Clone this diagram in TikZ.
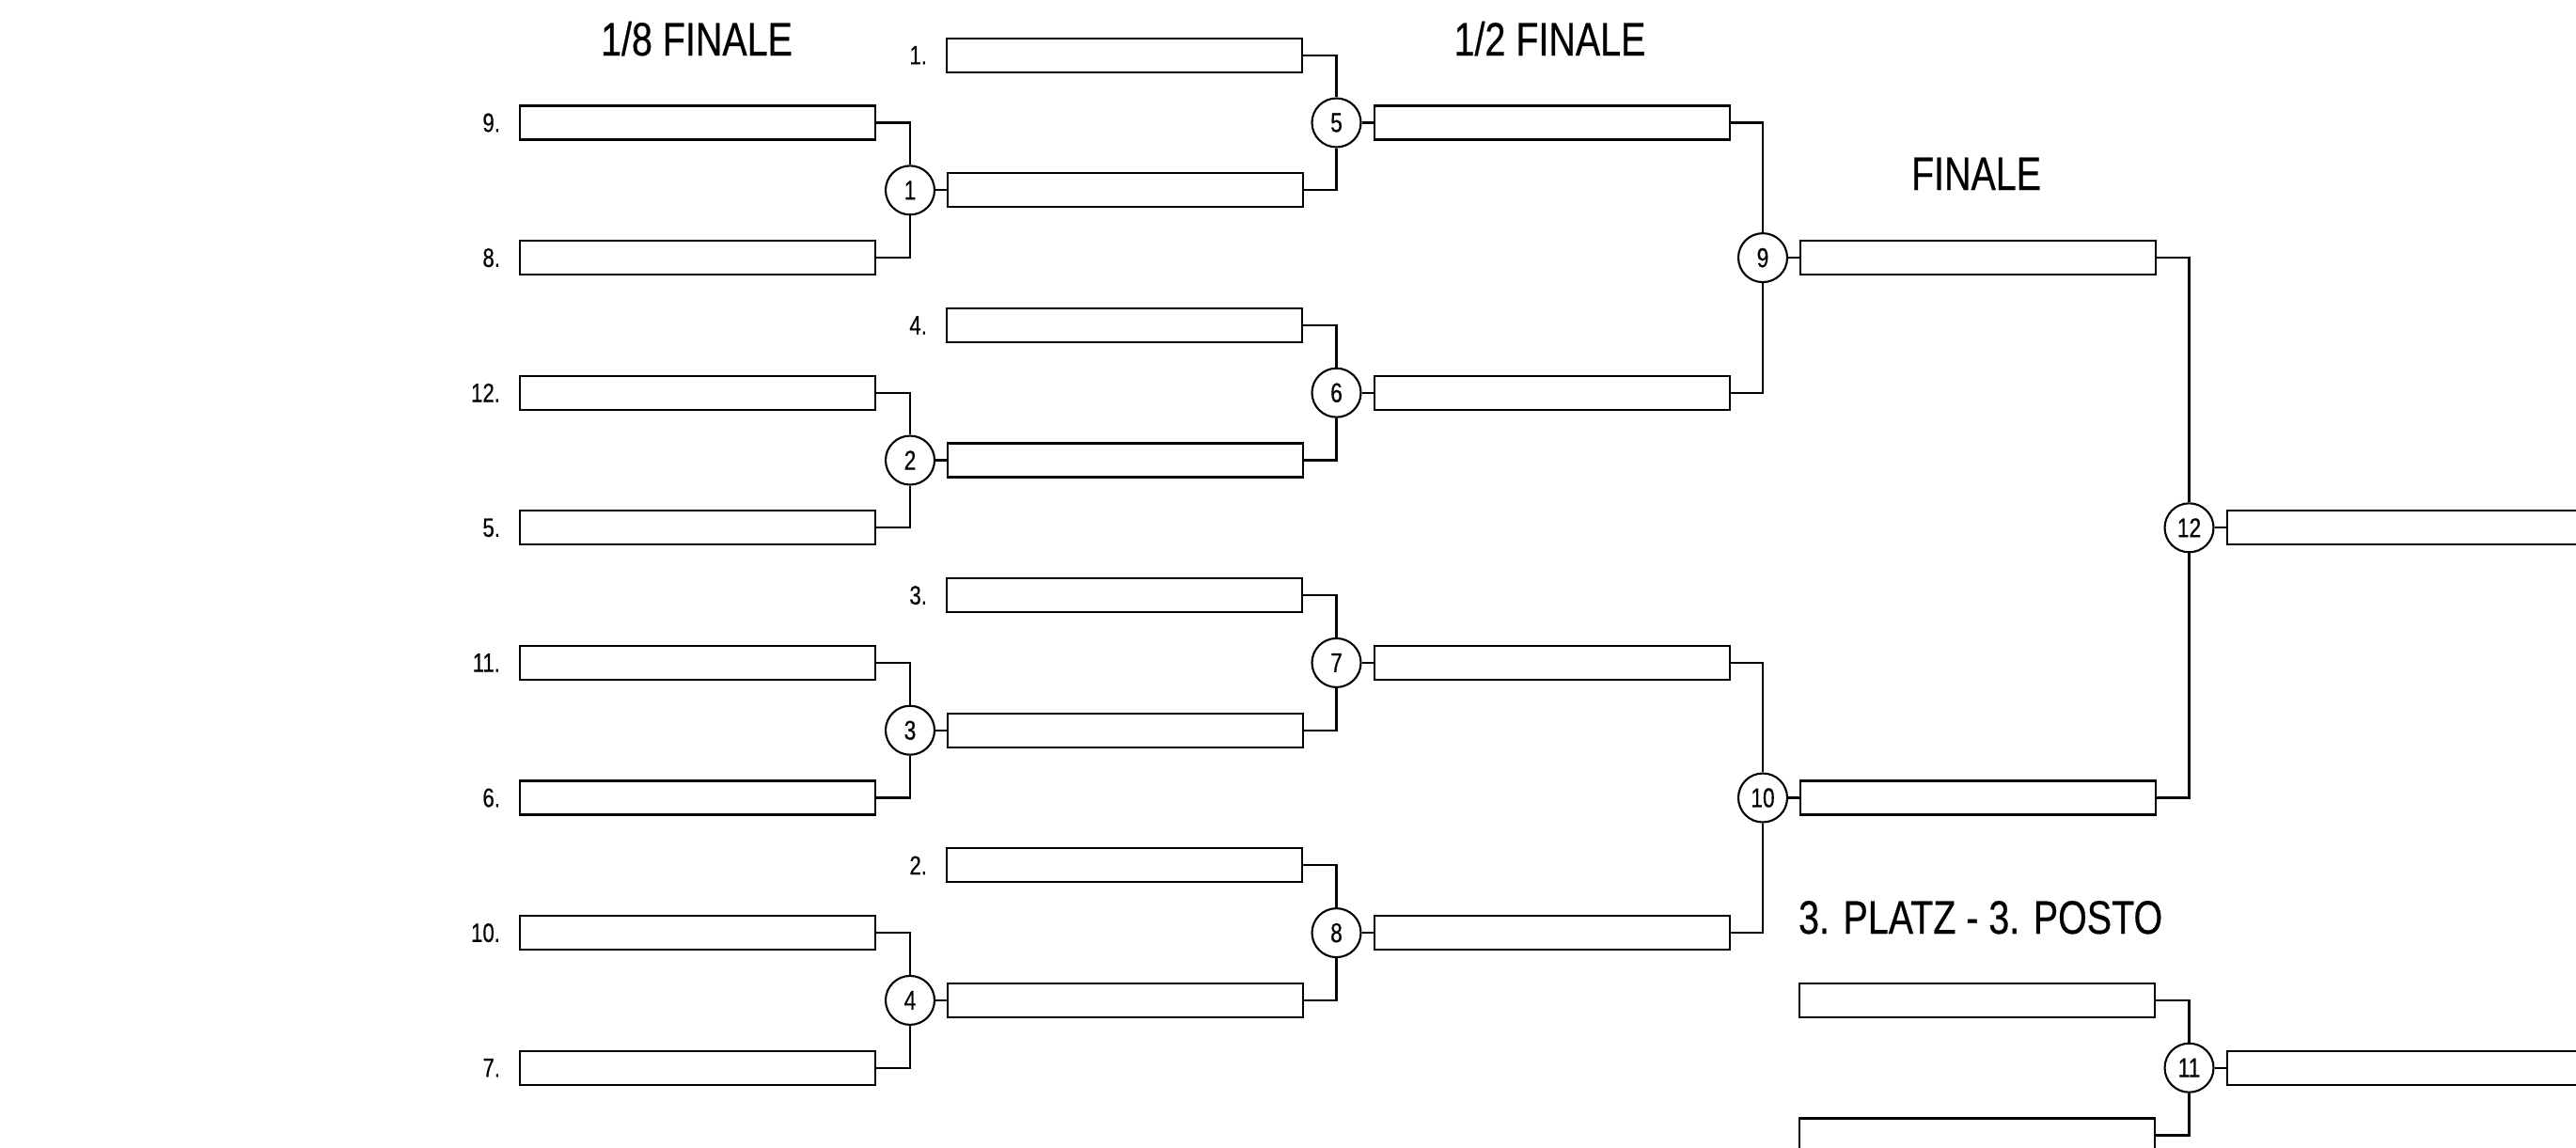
\documentclass[tikz,border=0pt]{standalone}
\usepackage{fontspec}
\setmainfont[FakeStretch=0.79,FakeBold=0.5]{Liberation Sans}
\usepackage{tikz}
\usetikzlibrary{positioning}

\begin{document}
\begin{tikzpicture}[
  line width=0.6pt,
  slot/.style={draw, minimum width=3.78cm, minimum height=3.6mm, inner sep=0pt, anchor=west},
  match/.style={draw, circle, fill=white, minimum size=5.2mm, inner sep=0pt,
                font=\fontsize{8.2}{9}\selectfont},
  seed/.style={inner sep=0pt, font=\fontsize{8}{9}\selectfont},
  head/.style={inner sep=0pt, anchor=base, font=\fontsize{14.2}{16}\selectfont}]
\clip (0,0) rectangle (27.4,-12.2);
% titles
\node[head] (t1) at (7.41,-0.59) {1/8 FINALE};
\node[head] (t2) at (16.485,-0.59) {1/2 FINALE};
\node[head] (t3) at (21.02,-2.02) {FINALE};
\node[head, anchor=base west] (t4) at (19.12,-9.93) {3. PLATZ - 3. POSTO};
% 1/8 finale
\node[slot] (a1) at (5.52,-1.305) {};
\node[slot] (a2) at (5.52,-2.741) {};
\node[slot] (a3) at (5.52,-4.177) {};
\node[slot] (a4) at (5.52,-5.613) {};
\node[slot] (a5) at (5.52,-7.049) {};
\node[slot] (a6) at (5.52,-8.485) {};
\node[slot] (a7) at (5.52,-9.921) {};
\node[slot] (a8) at (5.52,-11.357) {};
\node[seed, left=1.9mm of a1] {9.};
\node[seed, left=1.9mm of a2] {8.};
\node[seed, left=1.9mm of a3] {12.};
\node[seed, left=1.9mm of a4] {5.};
\node[seed, left=1.9mm of a5] {11.};
\node[seed, left=1.9mm of a6] {6.};
\node[seed, left=1.9mm of a7] {10.};
\node[seed, left=1.9mm of a8] {7.};
\node[match] (m1) at (9.68,-2.023) {1};
\node[match] (m2) at (9.68,-4.895) {2};
\node[match] (m3) at (9.68,-7.767) {3};
\node[match] (m4) at (9.68,-10.639) {4};
% 1/4 finale
\node[slot] (b1) at (10.06,-0.587) {};
\node[slot, right=1.2mm of m1] (b2) {};
\node[slot] (b3) at (10.06,-3.459) {};
\node[slot, right=1.2mm of m2] (b4) {};
\node[slot] (b5) at (10.06,-6.331) {};
\node[slot, right=1.2mm of m3] (b6) {};
\node[slot] (b7) at (10.06,-9.203) {};
\node[slot, right=1.2mm of m4] (b8) {};
\node[seed, left=1.9mm of b1] {1.};
\node[seed, left=1.9mm of b3] {4.};
\node[seed, left=1.9mm of b5] {3.};
\node[seed, left=1.9mm of b7] {2.};
\node[match] (m5) at (14.215,-1.305) {5};
\node[match] (m6) at (14.215,-4.177) {6};
\node[match] (m7) at (14.215,-7.049) {7};
\node[match] (m8) at (14.215,-9.921) {8};
% 1/2 finale
\node[slot, right=1.2mm of m5] (c1) {};
\node[slot, right=1.2mm of m6] (c2) {};
\node[slot, right=1.2mm of m7] (c3) {};
\node[slot, right=1.2mm of m8] (c4) {};
\node[match] (m9) at (18.75,-2.741) {9};
\node[match] (m10) at (18.75,-8.485) {10};
% finale + 3rd place
\node[slot, right=1.2mm of m9] (d1) {};
\node[slot, right=1.2mm of m10] (d2) {};
\node[slot] (e1) at (19.13,-10.639) {};
\node[slot] (e2) at (19.13,-12.075) {};
\node[match] (m12) at (23.285,-5.613) {12};
\node[match] (m11) at (23.285,-11.357) {11};
\node[slot, right=1.2mm of m12] (f1) {};
\node[slot, right=1.2mm of m11] (f2) {};
% connectors
\draw (a1.east) -| (m1.north);
\draw (a2.east) -| (m1.south);
\draw (a3.east) -| (m2.north);
\draw (a4.east) -| (m2.south);
\draw (a5.east) -| (m3.north);
\draw (a6.east) -| (m3.south);
\draw (a7.east) -| (m4.north);
\draw (a8.east) -| (m4.south);
\draw (b1.east) -| (m5.north);
\draw (b2.east) -| (m5.south);
\draw (b3.east) -| (m6.north);
\draw (b4.east) -| (m6.south);
\draw (b5.east) -| (m7.north);
\draw (b6.east) -| (m7.south);
\draw (b7.east) -| (m8.north);
\draw (b8.east) -| (m8.south);
\draw (c1.east) -| (m9.north);
\draw (c2.east) -| (m9.south);
\draw (c3.east) -| (m10.north);
\draw (c4.east) -| (m10.south);
\draw (d1.east) -| (m12.north);
\draw (d2.east) -| (m12.south);
\draw (e1.east) -| (m11.north);
\draw (e2.east) -| (m11.south);
\draw (m1) -- (b2);
\draw (m2) -- (b4);
\draw (m3) -- (b6);
\draw (m4) -- (b8);
\draw (m5) -- (c1);
\draw (m6) -- (c2);
\draw (m7) -- (c3);
\draw (m8) -- (c4);
\draw (m9) -- (d1);
\draw (m10) -- (d2);
\draw (m12) -- (f1);
\draw (m11) -- (f2);
\end{tikzpicture}
\end{document}
